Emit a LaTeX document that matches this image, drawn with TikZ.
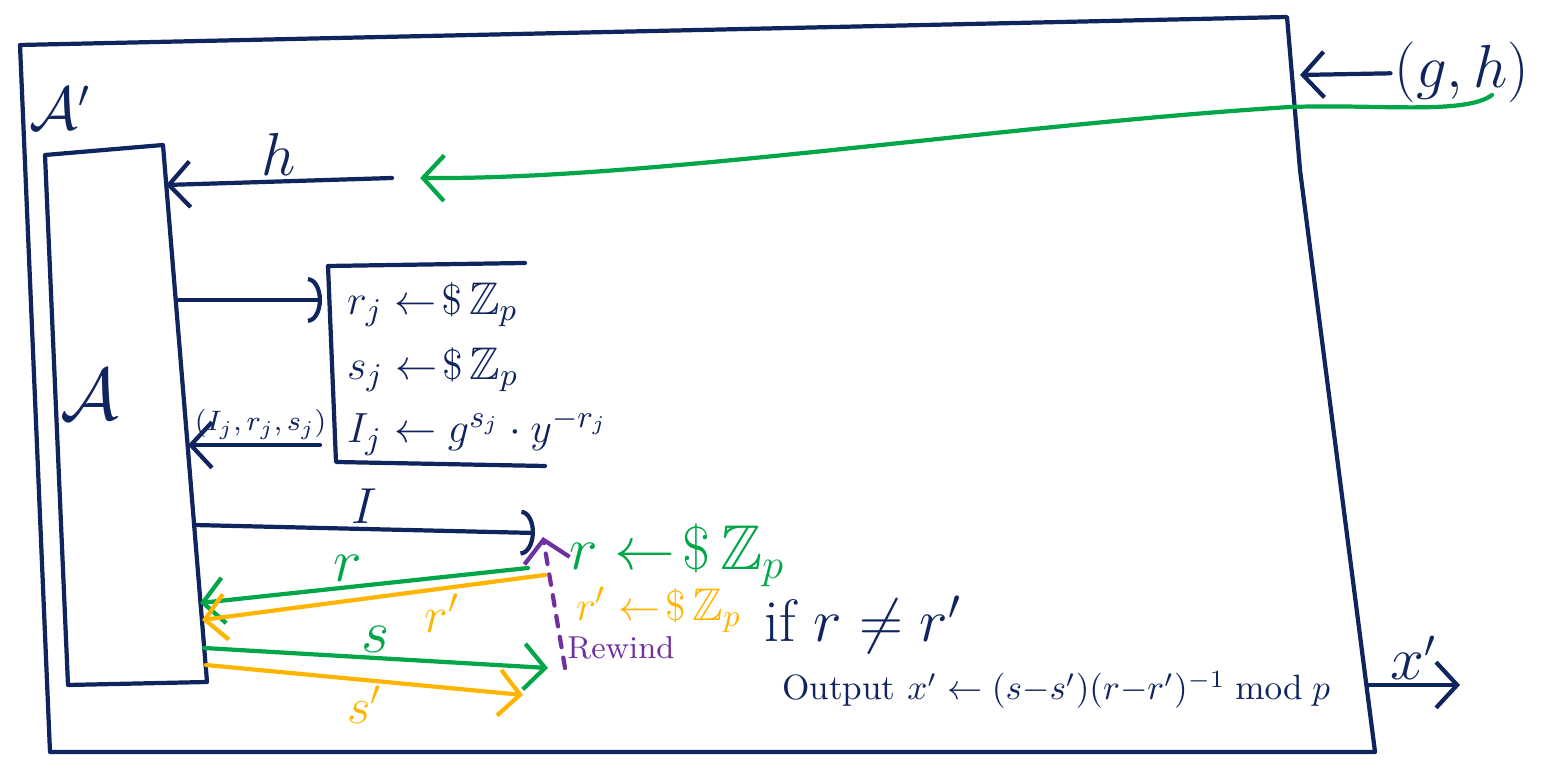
\documentclass[tikz,border=0pt]{standalone}
\usepackage{amssymb}
\usetikzlibrary{arrows.meta}
\definecolor{ink}{RGB}{16,36,94}
\definecolor{grn}{RGB}{0,166,72}
\definecolor{org}{RGB}{255,180,0}
\definecolor{prp}{RGB}{112,48,160}
\begin{document}
\begin{tikzpicture}[x=0.01cm,y=-0.01cm,
    pen/.style={line width=1.2pt, line cap=round, line join=round},
    box/.style={pen, draw=ink},
    msg/.style={-{Straight Barb[length=6pt,width=13pt,line width=1.2pt]}},
    hook/.style={-{Arc Barb[length=4pt,width=13pt,line width=1.2pt]}},
    txt/.style={inner sep=1pt, font=\fontsize{#1}{#1}\selectfont}]

    \useasboundingbox (0,0) rectangle (1549,777);

    \coordinate (oTL) at (20,45);
    \coordinate (oTR) at (1287,17);
    \coordinate (oMR) at (1300,170);
    \coordinate (oBR) at (1375,752);
    \coordinate (oBL) at (50,752);
    \draw[box] (oTL) -- (oTR) -- (oMR) -- (oBR) -- (oBL) -- cycle;
    \node[txt=16, text=ink] (advP) at (60,108) {$\mathcal{A}'$};

    \coordinate (aTL) at (45,155);
    \coordinate (aTR) at (163,145);
    \coordinate (aBR) at (207,682);
    \coordinate (aBL) at (68,685);
    \draw[box] (aTL) -- (aTR) -- (aBR) -- (aBL) -- cycle;
    \node[txt=20, text=ink] (adv) at (90,395) {$\mathcal{A}$};

    \coordinate (sTR) at (525,263);
    \coordinate (sTL) at (328,266);
    \coordinate (sBL) at (336,462);
    \coordinate (sBR) at (545,466);
    \draw[box] (sTR) -- (sTL) -- (sBL) -- (sBR);
    \node[txt=13, text=ink, anchor=west] (rj) at (343,305) {$r_j \leftarrow\!\$\,\mathbb{Z}_p$};
    \node[txt=13, text=ink, anchor=west] (sj) at (343,370) {$s_j \leftarrow\!\$\,\mathbb{Z}_p$};
    \node[txt=13, text=ink, anchor=west] (Ij) at (343,432) {$I_j \leftarrow g^{s_j}\cdot y^{-r_j}$};

    \node[txt=18, text=ink] (gh) at (1462,72) {$(g,h)$};
    \coordinate (ghTail) at (1492,95);
    \coordinate (oIn) at (1300,75);
    \coordinate (hEnd) at (392,178);
    \coordinate (aH) at (166,185);
    \draw[box, msg] (gh) -- (oIn);
    \draw[pen, draw=grn, msg] (ghTail) .. controls (1465,115) and (1380,104) .. (1290,107)
        .. controls (1000,125) and (650,180) .. ([xshift=8]hEnd);
    \draw[box, msg] (hEnd) -- node[above, txt=18, text=ink] {$h$} (aH);

    \coordinate (aQ) at (176,300);
    \coordinate (sIn) at (322,300);
    \coordinate (sOut) at (320,445);
    \coordinate (aR) at (188,445);
    \draw[box, hook] (aQ) -- (sIn);
    \draw[box, msg] (sOut) -- node[above, pos=0.45, txt=8.5, text=ink] {$(I_j,r_j,s_j)$} (aR);

    \coordinate (aI) at (194,525);
    \coordinate (cI) at (535,533);
    \draw[box, hook] (aI) -- node[above, txt=14, text=ink] {$I$} (cI);

    \node[txt=18, text=grn, anchor=west] (rC) at (565,555) {$r \leftarrow\!\$\,\mathbb{Z}_p$};
    \node[txt=13, text=org, anchor=west] (rpC) at (572,610) {$r' \leftarrow\!\$\,\mathbb{Z}_p$};

    \coordinate (rS) at (528,568);
    \coordinate (aR1) at (200,603);
    \coordinate (rpS) at (545,575);
    \coordinate (aR2) at (202,620);
    \draw[pen, draw=grn, msg] (rS) -- node[above, pos=0.55, txt=16, text=grn] {$r$} (aR1);
    \draw[pen, draw=org, msg] (rpS) -- node[below, pos=0.3, txt=14, text=org] {$r'$} (aR2);

    \coordinate (rwS) at (565,668);
    \coordinate (rwE) at (543,537);
    \draw[pen, draw=prp, dashed, msg] (rwS) -- node[right, pos=0.15, txt=9, text=prp] {Rewind} (rwE);

    \coordinate (aS1) at (204,648);
    \coordinate (sE) at (548,668);
    \coordinate (aS2) at (206,665);
    \coordinate (spE) at (523,695);
    \draw[pen, draw=grn, msg] (aS1) -- node[above, txt=16, text=grn] {$s$} (sE);
    \draw[pen, draw=org, msg] (aS2) -- node[below, pos=0.5, txt=14, text=org] {$s'$} (spE);

    \node[txt=17, text=ink, anchor=west] (cond) at (760,625) {if $r \neq r'$};
    \node[txt=10, text=ink, anchor=west] (outp) at (778,690) {Output $x' \leftarrow (s{-}s')(r{-}r')^{-1} \bmod p$};

    \coordinate (oOut) at (1368,685);
    \coordinate (xOut) at (1460,685);
    \draw[box, msg] (oOut) -- node[above, txt=16, text=ink] {$x'$} (xOut);
\end{tikzpicture}
\end{document}
